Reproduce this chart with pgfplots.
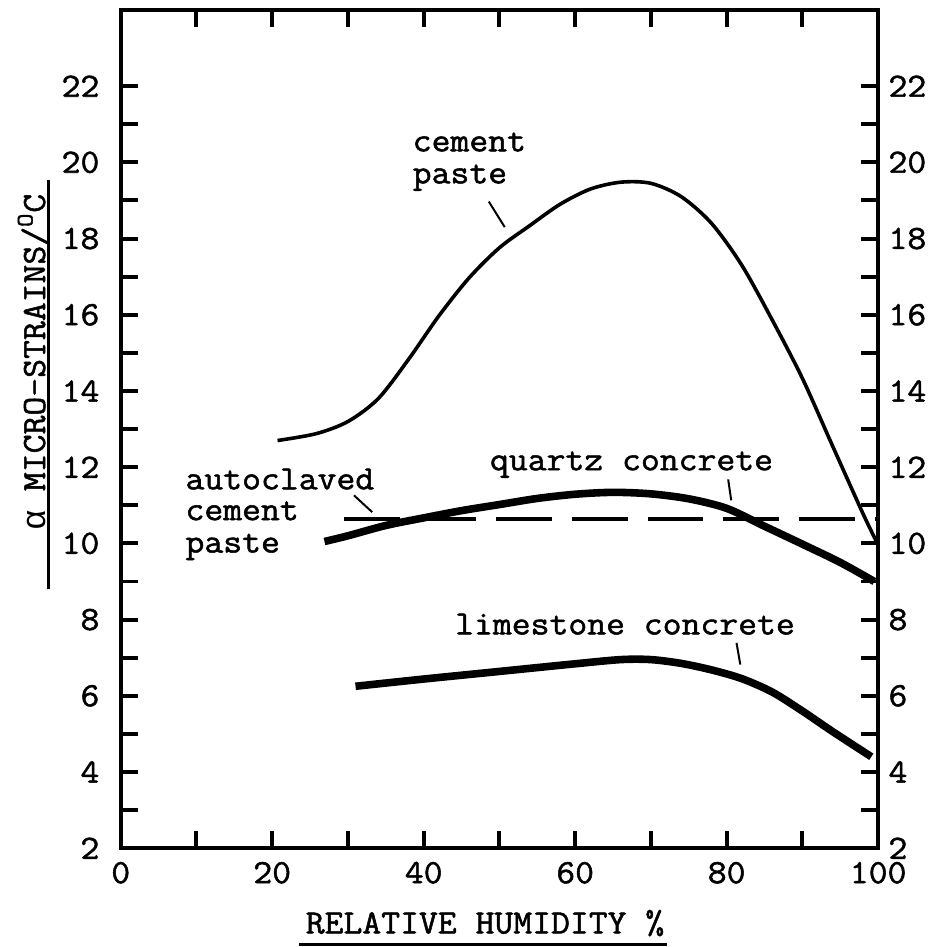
\documentclass[border=0pt]{standalone}
\usepackage{pgfplots}
\pgfplotsset{compat=1.18}
\usepackage{fontspec}
\setmainfont{Latin Modern Mono}[FakeStretch=1.08,FakeBold=1.5]
\newfontfamily\grk{Liberation Mono}
\usetikzlibrary{calc}
\begin{document}
\fontsize{17bp}{20bp}\selectfont
\begin{tikzpicture}[font=\fontsize{17bp}{20bp}\selectfont]
\begin{axis}[
  scale only axis, width=379.5bp, height=420bp,
  xmin=0, xmax=100, ymin=2, ymax=24,
  xtick={0,20,...,100}, minor xtick={10,30,...,90},
  ytick={2,4,...,22}, minor ytick={3,5,...,21},
  tick align=inside, tick pos=both,
  major tick length=8.5bp, minor tick length=8.5bp,
  every tick/.style={line width=2bp,black},
  axis line style={line width=2.2bp},
  /pgf/number format/assume math mode=true,
  xticklabel style={anchor=base, yshift=-17.5bp, inner sep=0pt},
  yticklabel style={anchor=east, xshift=-10.5bp, inner sep=0pt},
  clip=false,
]
\coordinate (BL) at (rel axis cs:0,0);
\coordinate (TR) at (rel axis cs:1,1);
% cement paste
\addplot[black, line width=1.8bp, smooth] coordinates {
(20.7,12.70)(25.8,12.88)(30,13.2)(34,13.8)(38,14.83)(42,15.97)(46,16.97)(50,17.76)(54,18.34)(58,18.9)(62,19.3)(66,19.48)(70,19.45)(74,19.1)(78,18.4)(82,17.3)(86,15.87)(90,14.33)(94,12.55)(98,10.78)(99.9,10.0)};
% quartz concrete
\addplot[black, line width=3.8bp, smooth] coordinates {
(26.9,10.05)(30,10.2)(35,10.47)(40,10.67)(45,10.86)(50,11.02)(55,11.18)(60,11.29)(65,11.34)(70,11.3)(75,11.17)(80,10.92)(85,10.45)(90,9.98)(95,9.5)(99.5,9.0)};
% limestone concrete
\addplot[black, line width=3.8bp, smooth] coordinates {
(31,6.25)(40,6.44)(50,6.64)(60,6.84)(66,6.95)(70,6.95)(74,6.85)(78,6.68)(82,6.45)(86,6.1)(90,5.6)(94,5.06)(99.1,4.4)};
% autoclaved cement paste
\addplot[black, line width=2bp, dash pattern=on 28bp off 10bp] coordinates {(29.5,10.63)(100,10.63)};
% pointer lines
\draw[line width=1bp] (axis cs:48.6,18.97) -- (axis cs:50.7,18.3);
\draw[line width=1bp] (axis cs:30.8,11.26) -- (axis cs:33.2,10.82);
\draw[line width=1bp] (axis cs:80.2,11.68) -- (axis cs:80.6,11.13);
\draw[line width=1bp] (axis cs:81.3,7.39) -- (axis cs:81.8,6.82);
% labels
\node[anchor=base west, inner sep=0pt] at (axis cs:38.5,20.29) {cement};
\node[anchor=base west, inner sep=0pt] at (axis cs:38.5,19.45) {paste};
\node[anchor=base west, inner sep=0pt] at (axis cs:8.5,11.42) {autoclaved};
\node[anchor=base west, inner sep=0pt] at (axis cs:8.5,10.61) {cement};
\node[anchor=base west, inner sep=0pt] at (axis cs:8.5,9.76) {paste};
\node[anchor=base west, inner sep=0pt] at (axis cs:48.7,11.92) {quartz concrete};
\node[anchor=base west, inner sep=0pt] at (axis cs:44.1,7.61) {limestone concrete};
% axis labels
\node[anchor=base, inner sep=0pt] at (axis cs:48.1,-0.237) {RELATIVE HUMIDITY \%};
\draw[line width=1.5bp] (axis cs:23.6,-0.52) -- (axis cs:72.1,-0.52);
\node[anchor=base, inner sep=0pt, rotate=90] at (axis cs:-10.0,14.76) {{\grk α} MICRO-STRAINS/\textsuperscript{O}C};
\draw[line width=1.5bp] (axis cs:-9.55,8.79) -- (axis cs:-9.55,19.55);
\end{axis}
\begin{axis}[
  scale only axis, width=379.5bp, height=420bp,
  xmin=0, xmax=100, ymin=2, ymax=24,
  hide x axis, axis y line*=right,
  y axis line style={draw=none},
  ytick={2,4,...,22}, major tick length=0pt,
  /pgf/number format/assume math mode=true,
  yticklabel style={anchor=west, xshift=5bp, inner sep=0pt},
]
\addplot[draw=none] coordinates {(0,2)};
\end{axis}
\path ($(BL)+(-60.5bp,-49.5bp)$) rectangle ($(TR)+(25bp,5bp)$);
\end{tikzpicture}
\end{document}
